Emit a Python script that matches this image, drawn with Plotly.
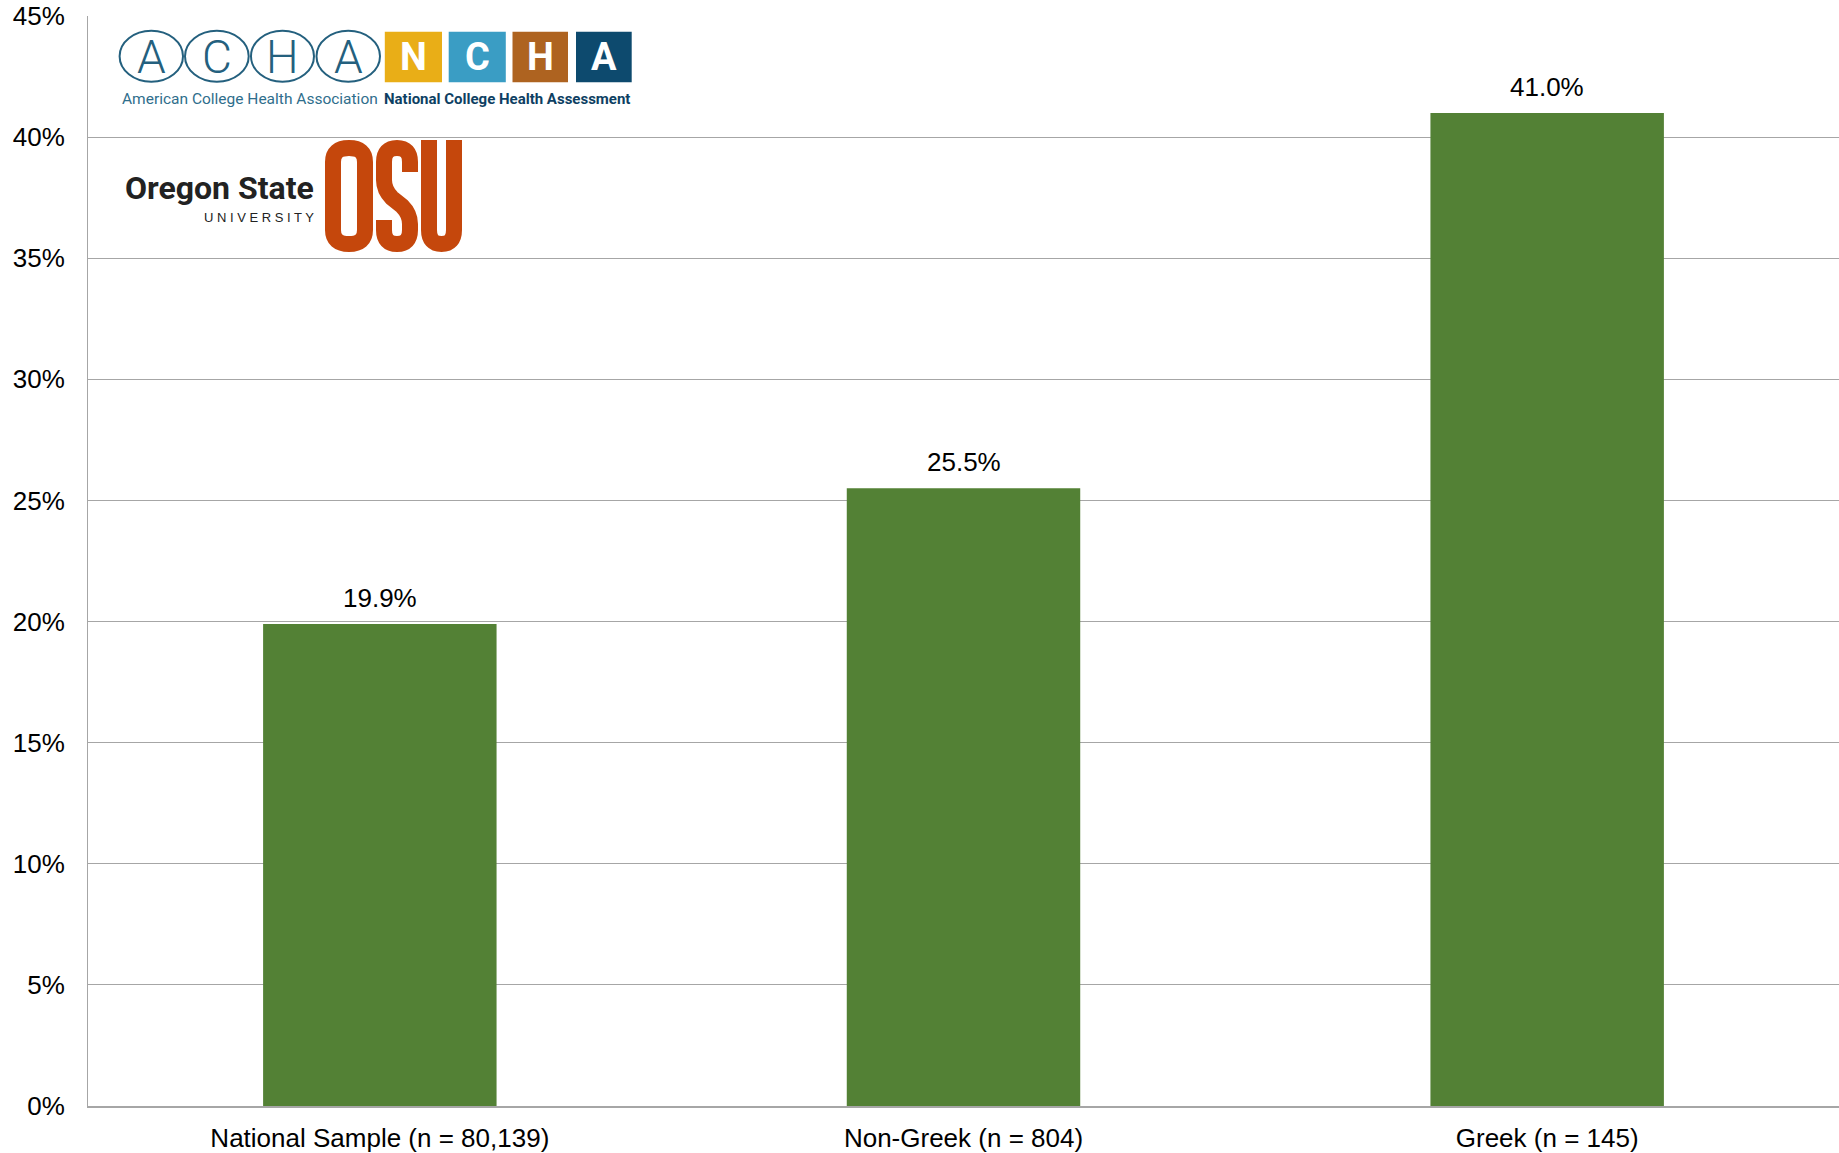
import plotly.graph_objects as go

# ---- data ----
categories = ["National Sample (n = 80,139)", "Non-Greek (n = 804)", "Greek (n = 145)"]
values = [0.199, 0.255, 0.410]
value_labels = ["19.9%", "25.5%", "41.0%"]
y_ticks = [0, 0.05, 0.10, 0.15, 0.20, 0.25, 0.30, 0.35, 0.40, 0.45]

# the page body margin is removed by post_script, so the figure sits at the page origin
OFF = 0
W, H = 1839 - OFF, 1153 - OFF
L, R, T, B = 88 - OFF, 0, 16 - OFF, 47
PW = W - L - R
PH = H - T - B
SX0 = OFF + L          # screen x of plot left edge
SY1 = OFF + H - B      # screen y of plot bottom edge


def px(x):
    return (x - SX0) / PW


def py(y):
    return (SY1 - y) / PH


BAR = "#538135"
GRID = "#A6A6A6"
FONT = "Liberation Sans, Arial, sans-serif"
LOGO = "Roboto, Liberation Sans, sans-serif"

fig = go.Figure()
fig.add_trace(go.Bar(
    x=categories, y=values, marker=dict(color=BAR, line=dict(width=0)),
    hoverinfo="skip",
))

shapes = []
annotations = []

# value labels
for c, v, t in zip(categories, values, value_labels):
    annotations.append(dict(x=c, y=v, xref="x", yref="y", text=t, showarrow=False,
                            xanchor="center", yanchor="middle", yshift=26,
                            font=dict(family=FONT, size=26, color="#000000")))

# ---- ACHA / NCHA logo (drawn) ----
teal = "#24607E"
circles = [(119.6, 183), (185, 248.7), (251, 314), (316.5, 380)]
for (x0, x1), letter in zip(circles, ["A", "C", "H", "A"]):
    shapes.append(dict(type="circle", xref="paper", yref="paper",
                       x0=px(x0), x1=px(x1), y0=py(81.7), y1=py(30.7),
                       line=dict(color=teal, width=2), fillcolor="rgba(0,0,0,0)"))
    annotations.append(dict(xref="paper", yref="paper", x=px((x0 + x1) / 2), y=py(57),
                            text=letter, showarrow=False, xanchor="center", yanchor="middle",
                            font=dict(family=LOGO, size=46, color=teal, weight=300)))
squares = [(384.8, 442, "#E9AE17", "N"), (448.7, 505.8, "#3A9DC4", "C"),
           (512.5, 568, "#AE6320", "H"), (576, 631.7, "#0D4A6E", "A")]
for x0, x1, col, letter in squares:
    shapes.append(dict(type="rect", xref="paper", yref="paper",
                       x0=px(x0), x1=px(x1), y0=py(82.3), y1=py(31.7),
                       line=dict(width=0), fillcolor=col))
    annotations.append(dict(xref="paper", yref="paper", x=px((x0 + x1) / 2), y=py(57),
                            text="<b>" + letter + "</b>", showarrow=False,
                            xanchor="center", yanchor="middle",
                            font=dict(family=LOGO, size=38, color="#FFFFFF")))
annotations.append(dict(xref="paper", yref="paper", x=px(120), y=py(99),
                        text="American College Health Association", showarrow=False,
                        xanchor="left", yanchor="middle",
                        font=dict(family=LOGO, size=15.5, color="#2F6E8C")))
annotations.append(dict(xref="paper", yref="paper", x=px(632), y=py(99),
                        text="<b>National College Health Assessment</b>", showarrow=False,
                        xanchor="right", yanchor="middle",
                        font=dict(family=LOGO, size=15, color="#0E3F63")))

# ---- Oregon State OSU logo (drawn) ----
annotations.append(dict(xref="paper", yref="paper", x=px(316), y=py(188),
                        text="<b>Oregon State</b>", showarrow=False,
                        xanchor="right", yanchor="middle",
                        font=dict(family=LOGO, size=32, color="#222222")))
annotations.append(dict(xref="paper", yref="paper", x=px(316), y=py(218),
                        text="U N I V E R S I T Y", showarrow=False,
                        xanchor="right", yanchor="middle",
                        font=dict(family=FONT, size=13, color="#222222")))
orange = "#C5470C"
sw = 16


def path(cmds):
    out = []
    for c in cmds:
        if isinstance(c, str):
            out.append(c)
        else:
            out.append("%.6f,%.6f" % (px(c[0]), py(c[1])))
    return " ".join(out)


o_path = path(["M", (333, 162), "L", (333, 230), "Q", (333, 244), (349, 244),
               "Q", (365, 244), (365, 230), "L", (365, 162), "Q", (365, 148), (349, 148),
               "Q", (333, 148), (333, 162), "Z"])
s_path = path(["M", (410, 172), "L", (410, 162), "Q", (410, 148), (397, 148),
               "Q", (384, 148), (384, 162), "L", (384, 180), "Q", (384, 190), (392, 198),
               "L", (402, 206), "Q", (410, 214), (410, 224), "L", (410, 230),
               "Q", (410, 244), (397, 244), "Q", (384, 244), (384, 230), "L", (384, 220)])
u_path = path(["M", (429, 140), "L", (429, 230), "Q", (429, 244), (441.5, 244),
               "Q", (454, 244), (454, 230), "L", (454, 140)])
for p in (o_path, s_path, u_path):
    shapes.append(dict(type="path", xref="paper", yref="paper", path=p,
                       line=dict(color=orange, width=sw), fillcolor="rgba(0,0,0,0)"))

fig.update_layout(
    width=W, height=H,
    margin=dict(l=L, r=R, t=T, b=B, pad=0),
    paper_bgcolor="#FFFFFF", plot_bgcolor="#FFFFFF",
    bargap=0.6, showlegend=False,
    font=dict(family=FONT, size=26, color="#000000"),
    shapes=shapes, annotations=annotations,
)
fig.update_yaxes(
    range=[0, 0.45], tickvals=y_ticks, tickformat=".0%",
    showgrid=True, gridcolor=GRID, gridwidth=1,
    showline=True, linecolor=GRID, linewidth=1,
    zeroline=False, ticks="", ticklabelstandoff=17,
    ticklabeloverflow="allow", automargin=False,
    tickfont=dict(family=FONT, size=26, color="#000000"),
)
fig.update_xaxes(
    showline=True, linecolor=GRID, linewidth=2, showgrid=False,
    ticks="", ticklabelstandoff=8, automargin=False,
    tickfont=dict(family=FONT, size=26, color="#000000"),
)

fig.write_html("out.html", config={"displayModeBar": False},
               post_script="document.body.style.margin='0px';document.body.style.overflow='hidden';")
